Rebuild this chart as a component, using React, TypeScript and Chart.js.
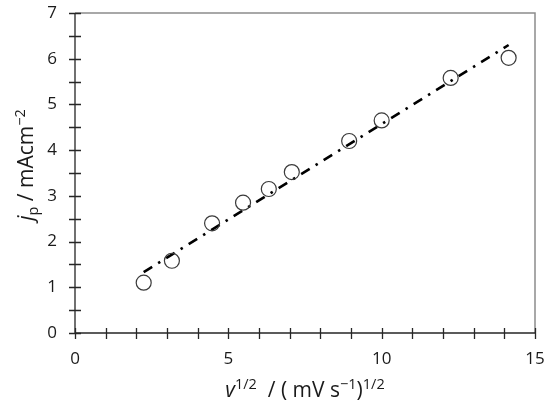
import React, { useEffect, useRef } from "react";
import { Chart, registerables } from "chart.js";

Chart.register(...registerables);

// Data: sqrt of scan rate vs peak current density
const xValues = [2.24, 3.16, 4.47, 5.48, 6.32, 7.07, 8.94, 10.0, 12.25, 14.14];
const yValues = [1.1, 1.58, 2.4, 2.85, 3.15, 3.52, 4.2, 4.65, 5.58, 6.02];
// Linear fit line endpoints
const fitX = [2.24, 14.14];
const fitY = [1.33, 6.3];

const xMajorTicks = [0, 5, 10, 15];
const xMinorTicks = [1, 2, 3, 4, 6, 7, 8, 9, 11, 12, 13, 14];
const yMajorTicks = [0, 1, 2, 3, 4, 5, 6, 7];
const yMinorTicks = [0.5, 1.5, 2.5, 3.5, 4.5, 5.5, 6.5];

const FONT = "'Open Sans', 'Liberation Sans', sans-serif";

type Seg = { t: string; size: number; italic?: boolean; dy?: number };

const xTitle: Seg[] = [
  { t: "v", size: 21, italic: true },
  { t: "1/2", size: 14.5, dy: -8 },
  { t: "  / ( mV s", size: 21 },
  { t: "\u22121", size: 14.5, dy: -8 },
  { t: ")", size: 21 },
  { t: "1/2", size: 14.5, dy: -8 },
];

const yTitle: Seg[] = [
  { t: "j", size: 21, italic: true },
  { t: "p", size: 14.5, dy: 5 },
  { t: " / mAcm", size: 21 },
  { t: "\u22122", size: 14.5, dy: -8 },
];

function fontOf(s: Seg) {
  return `${s.italic ? "italic " : ""}${s.size}px ${FONT}`;
}

function drawRich(ctx: CanvasRenderingContext2D, segs: Seg[], cx: number, baseY: number) {
  let total = 0;
  for (const s of segs) {
    ctx.font = fontOf(s);
    total += ctx.measureText(s.t).width;
  }
  let x = cx - total / 2;
  ctx.textAlign = "left";
  ctx.textBaseline = "alphabetic";
  for (const s of segs) {
    ctx.font = fontOf(s);
    ctx.fillText(s.t, x, baseY + (s.dy || 0));
    x += ctx.measureText(s.t).width;
  }
}

const axesPlugin = {
  id: "excelAxes",
  beforeDatasetsDraw(chart: any) {
    const { ctx, chartArea: a } = chart;
    const xs = chart.scales.x;
    const ys = chart.scales.y;
    ctx.save();
    // plot border (top & right)
    ctx.strokeStyle = "#8c8c8c";
    ctx.lineWidth = 1.5;
    ctx.beginPath();
    ctx.moveTo(a.left, a.top);
    ctx.lineTo(a.right, a.top);
    ctx.lineTo(a.right, a.bottom);
    ctx.stroke();
    // axes
    ctx.strokeStyle = "#262626";
    ctx.lineWidth = 1.3;
    ctx.beginPath();
    ctx.moveTo(a.left, a.top);
    ctx.lineTo(a.left, a.bottom);
    ctx.lineTo(a.right, a.bottom);
    ctx.stroke();
    // ticks crossing axes
    ctx.beginPath();
    for (const v of [...xMajorTicks, ...xMinorTicks]) {
      const px = Math.round(xs.getPixelForValue(v)) + 0.5;
      ctx.moveTo(px, a.bottom - 5);
      ctx.lineTo(px, a.bottom + 6);
    }
    for (const v of [...yMajorTicks, ...yMinorTicks]) {
      const py = Math.round(ys.getPixelForValue(v)) + 0.5;
      ctx.moveTo(a.left - 6, py);
      ctx.lineTo(a.left + 6, py);
    }
    ctx.stroke();
    ctx.restore();
  },
  afterDraw(chart: any) {
    const { ctx, chartArea: a } = chart;
    const xs = chart.scales.x;
    const ys = chart.scales.y;
    ctx.save();
    ctx.fillStyle = "#1a1a1a";
    ctx.font = `17px ${FONT}`;
    ctx.textAlign = "center";
    ctx.textBaseline = "middle";
    for (const v of xMajorTicks) {
      ctx.fillText(String(v), xs.getPixelForValue(v), a.bottom + 26);
    }
    ctx.textAlign = "right";
    for (const v of yMajorTicks) {
      ctx.fillText(String(v), a.left - 18, ys.getPixelForValue(v));
    }
    // x title
    drawRich(ctx, xTitle, (a.left + a.right) / 2, 397);
    // y title rotated
    ctx.translate(33, 165);
    ctx.rotate(-Math.PI / 2);
    drawRich(ctx, yTitle, 0, 0);
    ctx.restore();
  },
};

export default function App() {
  const ref = useRef<HTMLCanvasElement | null>(null);
  useEffect(() => {
    document.body.style.margin = "0";
    const canvas = ref.current!;
    const chart = new Chart(canvas, {
      type: "scatter",
      data: {
        datasets: [
          {
            label: "data",
            data: xValues.map((x, i) => ({ x, y: yValues[i] })),
            pointRadius: 7.5,
            pointBorderWidth: 1.2,
            pointBorderColor: "#3a3a3a",
            pointBackgroundColor: "rgba(0,0,0,0)",
            showLine: false,
            order: 1,
          },
          {
            label: "fit",
            data: fitX.map((x, i) => ({ x, y: fitY[i] })),
            showLine: true,
            borderColor: "#000000",
            borderWidth: 2.6,
            borderDash: [10, 7, 2.5, 7],
            borderCapStyle: "butt",
            pointRadius: 0,
            order: 2,
          },
        ],
      },
      options: {
        animation: false,
        responsive: false,
        events: [],
        layout: { padding: { left: 75, right: 15, top: 13, bottom: 76 } },
        plugins: { legend: { display: false }, tooltip: { enabled: false } },
        scales: {
          x: { type: "linear", min: 0, max: 15, display: false },
          y: { type: "linear", min: 0, max: 7, display: false },
        },
      },
      plugins: [axesPlugin],
    } as any);
    return () => chart.destroy();
  }, []);
  return (
    <div style={{ width: 550, height: 409 }}>
      <canvas ref={ref} width={550} height={409} />
    </div>
  );
}
